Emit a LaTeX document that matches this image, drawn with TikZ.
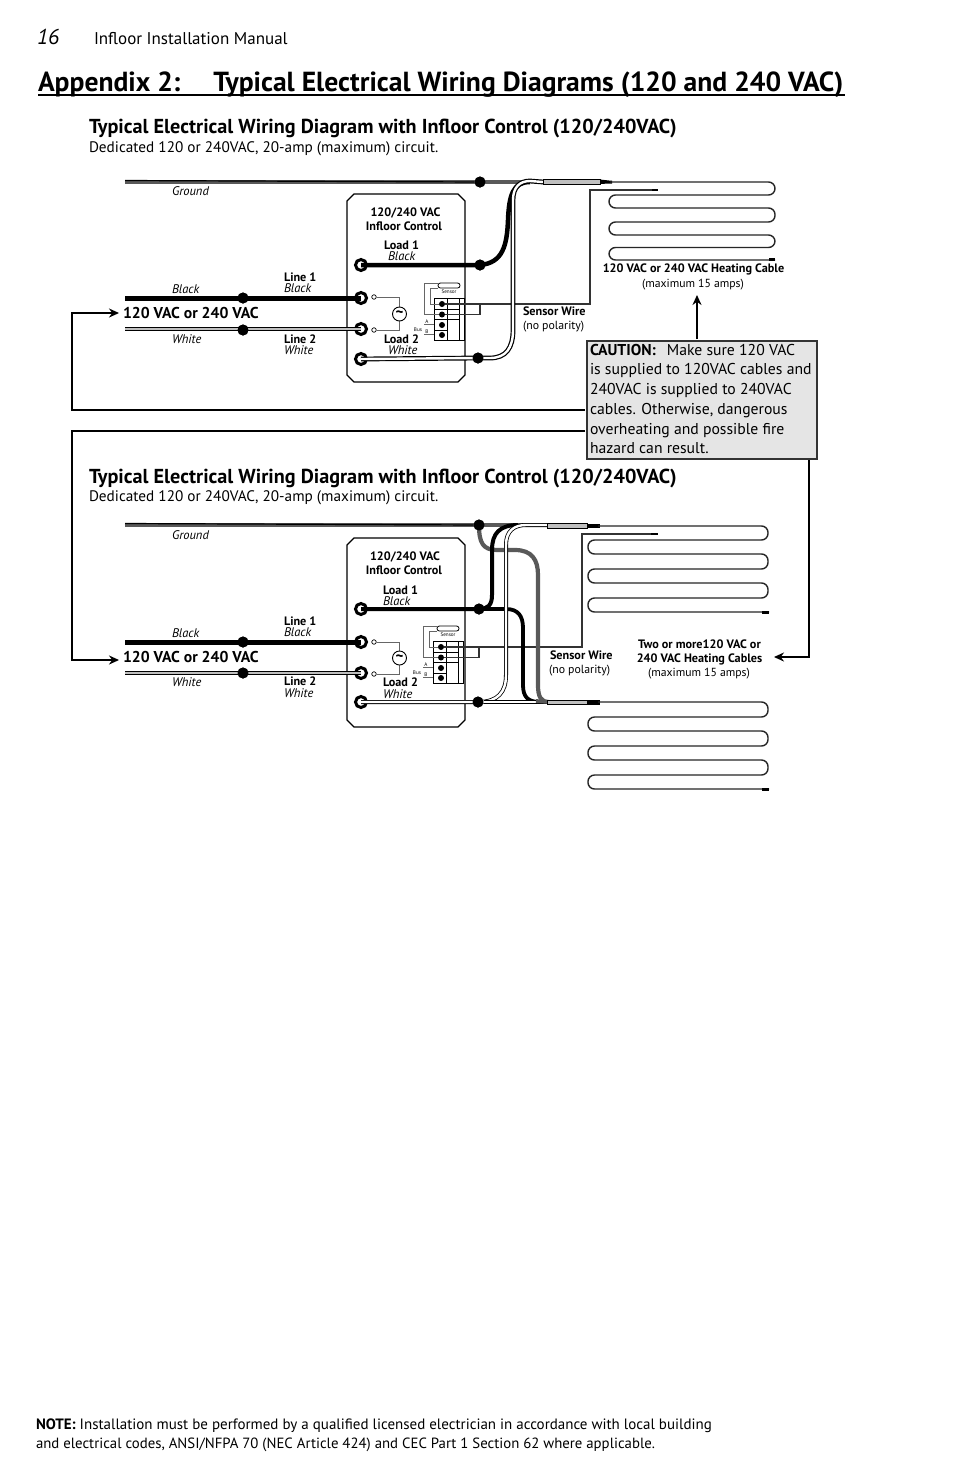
\documentclass[tikz,border=0pt]{standalone}
\usepackage{fontspec}
\setmainfont{PT Sans}
\usetikzlibrary{arrows.meta}
\newcommand{\fs}[1]{\fontsize{#1}{#1}\selectfont}
\tikzset{
 txt/.style={inner sep=0,outer sep=0,anchor=base west,text=black},
 lb/.style={txt,font=\fs{12.2}\bfseries},
 lbc/.style={txt,anchor=base,font=\fs{12.2}\bfseries},
 li/.style={txt,font=\fs{12.5}\itshape},
 lr/.style={txt,font=\fs{11.8}},
 lrc/.style={txt,anchor=base,font=\fs{11.7}},
 vac/.style={txt,font=\fs{15.7}\bfseries},
 subh/.style={txt,font=\fs{20.2}\bfseries},
 ded/.style={txt,font=\fs{15.25}},
 blackw/.style={line width=4.5,black},
 whitew/.style={line width=1.2,black,double=white,double distance=2.4},
 whitegw/.style={line width=1,black,double=black!25,double distance=2.4},
 groundw/.style={line width=4,black!65},
 groundedge/.style={line width=1.2,black},
 thin gray/.style={line width=.9,black!60},
 cablew/.style={line width=1.4,black!85,rounded corners=6.5},
 sensw/.style={line width=1.3,black!80},
 arroww/.style={line width=1.6,black,-{Stealth[length=10,width=9]}},
 dot/.style={circle,fill=black,inner sep=0,minimum size=11},
 sdot/.style={circle,fill=black,inner sep=0,minimum size=6},
 ring/.style={circle,draw=black,line width=3,fill=white,inner sep=0,minimum size=11},
 smallc/.style={circle,draw=black,line width=.7,fill=white,inner sep=0,minimum size=4.5},
 tilde/.style={circle,draw=black,line width=.9,fill=white,inner sep=0,minimum size=14,font=\fs{15}\bfseries},
 ctrlbox/.style={draw=black,line width=1.1,fill=white},
 sleeve/.style={draw=black,line width=1,fill=black!25},
 tipbk/.style={fill=black},
 tiny/.style={txt,anchor=base,font=\fs{5.2}},
}
\newcommand{\sensorblk}[3]{%
 \begin{scope}[shift={(#2,#3)}]
  \draw[line width=1,black] (0,0) rectangle (30,42);
  \draw[line width=1,black] (13,0)--(13,42) (25,0)--(25,42);
  \draw[line width=1,black] (0,11)--(25,11) (0,21.5)--(25,21.5) (0,32)--(13,32);
  \node[sdot] (#1d1) at (8,6) {};
  \node[sdot] (#1d2) at (8,16.5) {};
  \node[sdot] (#1d3) at (8,27) {};
  \node[sdot] (#1d4) at (8,37) {};
  \draw[draw=black,line width=.8,fill=white,rounded corners=2.4] (4,-15) rectangle (26,-10);
  \draw[thin gray] (4,-15) -- (-10,-15) -- (-10,16.5) -- (#1d2);
  \draw[thin gray] (4,-10) -- (-4,-10) -- (-4,6) -- (#1d1);
  \node[tiny] (#1sn) at (15,-4.5) {Sensor};
  \node[tiny] (#1bus) at (-16,33) {Bus};
  \node[tiny] (#1a) at (-7,25) {A};
  \node[tiny] (#1b) at (-7,35) {B};
  \draw[thin gray] (-10,26.5)--(0,26.5) (-10,36.5)--(0,36.5);
 \end{scope}}
\newcommand{\ctrlbx}[4]{\draw[ctrlbox] (#1+7,#2) -- (#3-7,#2) -- (#3,#2+7) -- (#3,#4-7) -- (#3-7,#4) -- (#1+7,#4) -- (#1,#4-7) -- (#1,#2+7) -- cycle;}
\begin{document}
\begin{tikzpicture}[x=1pt,y=-1pt]
\useasboundingbox[fill=white] (0,0) rectangle (954,1484);
% header
\node[txt,font=\fs{21.5}\itshape] (pg) at (37,44) {16};
\node[txt,font=\fs{17}] (man) at (94,44) {Infloor Installation Manual};
\node[txt,font=\fs{27.6}\bfseries] (title) at (38,91) {Appendix 2:\hspace{33pt}Typical Electrical Wiring Diagrams (120 and 240 VAC)};
\draw[line width=2,black] (38,95) -- (845,95);
% ---------- diagram 1
\node[subh] (s1) at (89,133) {Typical Electrical Wiring Diagram with Infloor Control (120/240VAC)};
\node[ded] (d1) at (89,152) {Dedicated 120 or 240VAC, 20-amp (maximum) circuit.};
\ctrlbx{347}{194}{465}{382}
\sensorblk{p}{434}{298}
\node[ring] (tl1) at (361,265) {};
\node[ring] (ta1) at (361,298) {};
\node[ring] (tb1) at (361,329) {};
\node[ring] (tw1) at (361,359) {};
\node[dot] (dg1) at (480,182) {};
\node[dot] (dl1) at (480,265) {};
\node[dot] (dw1) at (478,358) {};
\node[dot] (da1) at (243,298) {};
\node[dot] (db1) at (243,330) {};
\node[smallc] (ca1) at (374,297) {};
\node[smallc] (cb1) at (374,330) {};
\draw[thin gray] (ca1)--(399.5,297)--(399.5,314);
\draw[thin gray] (cb1)--(399.5,330)--(399.5,314);
\node[tilde] (tt1) at (399.5,314) {\textasciitilde};
\coordinate (g1s) at (125,182);
\coordinate (g1e) at (543,182);
\draw[groundw] (g1s)--(530,182);
\draw[groundedge] (125,180.5)--(dg1);
% sensor wire
\coordinate (sn1a) at (590,190);
\coordinate (sn1b) at (658,190);
\draw[sensw] (pd1)--(590,304)--(sn1a)--(sn1b);
\draw[sensw] (pd2)--(480,314.5)--(480,304);
\draw[line width=2.6,black] (652,190)--(sn1b);
% power wires
\draw[blackw] (tl1.center)--(dl1.center) .. controls (503,263) and (507,245) .. (508,220) .. controls (509,195) and (513,182) .. (530,182);
\draw[whitew] (tw1.center)--(dw1.center) -- (490,358) .. controls (506,358) and (513,348) .. (513,330) -- (513,200) .. controls (513,187) and (520,181) .. (530,181) -- (g1e);
\draw[blackw,line width=5] (125,298)--(ta1.center);
\draw[whitegw] (125,329)--(tb1.center);
\node[dot] at (dg1) {};
\node[dot] at (dl1) {};
\node[dot] at (dw1) {};
\node[dot] at (da1) {};
\node[dot] at (db1) {};
\draw[sleeve] (543,179.5) rectangle (600,184);
\fill[tipbk] (600,179.5)--(609,180.5)--(612,180.5)--(612,183.5)--(609,183.5)--(600,184)--cycle;
\draw[cablew] (610,182)--(775,182)--(775,195)--(609,195)--(609,208)--(775,208)--(775,222)--(609,222)--(609,235)--(775,235)--(775,247.5)--(609,247.5)--(609,260) [sharp corners] --(775,260);
\fill[tipbk] (769,258.2) rectangle (775,261);
% labels 1
\node[lbc] (c11) at (405.5,216) {120/240 VAC};
\node[lbc] (c12) at (404,230) {Infloor Control};
\node[lb] (l1a) at (384,249) {Load 1};
\node[li] (l1b) at (388,260) {Black};
\node[li] (gr1) at (172,195) {Ground};
\node[li] (bk1) at (172,293) {Black};
\node[li] (wh1) at (172,343) {White};
\node[lb] (li1) at (284,281) {Line 1};
\node[li] (li1b) at (284,292) {Black};
\node[lb] (li2) at (284,343) {Line 2};
\node[li] (li2b) at (284,354) {White};
\node[lb] (lo2) at (384,343) {Load 2};
\node[li] (lo2b) at (388,354) {White};
\node[vac] (v1) at (123,318) {120 VAC or 240 VAC};
\node[lb] (sw1) at (523,315) {Sensor Wire};
\node[lr] (np1) at (523,329) {(no polarity)};
\node[lbc] (hc1) at (693.5,272) {120 VAC or 240 VAC Heating Cable};
\node[lrc] (mx1) at (693,287) {(maximum 15 amps)};
% caution
\node[draw=black!80,line width=2,fill=black!10,minimum width=230,minimum height=118,inner sep=0,outer sep=0,anchor=north west] (caution) at (586.5,340.5) {};
\node[txt,font=\fs{16},align=left,anchor=north west] (ctext) at (590,341.5) {%
\parbox[t]{225pt}{\fontsize{15.7}{19.7}\selectfont\strut\textbf{CAUTION:}\hspace{11pt}Make sure 120 VAC\\is supplied to 120VAC cables and\\240VAC is supplied to 240VAC\\cables. Otherwise, dangerous\\overheating and possible fire\\hazard can result.}};
\coordinate (ct1) at (697,339);
\coordinate (ct2) at (697,295);
\draw[arroww] (ct1)--(ct2);
\coordinate (arr1a) at (585,410);
\coordinate (arr1b) at (119,313);
\draw[arroww] (arr1a)--(72,410)--(72,313)--(arr1b);
\coordinate (arr2a) at (585,431);
\coordinate (arr2b) at (119,660);
\draw[arroww] (arr2a)--(72,431)--(72,660)--(arr2b);
\coordinate (arr3a) at (809,460);
\coordinate (arr3b) at (774,657);
\draw[arroww] (arr3a)--(809,657)--(arr3b);
% ---------- diagram 2
\node[subh] (s2) at (89,483) {Typical Electrical Wiring Diagram with Infloor Control (120/240VAC)};
\node[ded] (d2) at (89,501) {Dedicated 120 or 240VAC, 20-amp (maximum) circuit.};
\ctrlbx{347}{538}{465}{727}
\sensorblk{q}{433}{641}
\node[ring] (tl2) at (361,609) {};
\node[ring] (ta2) at (361,642) {};
\node[ring] (tb2) at (361,673) {};
\node[ring] (tw2) at (361,702) {};
\node[dot] (dg2) at (479,525) {};
\node[dot] (dl2) at (479,609) {};
\node[dot] (dw2) at (478,702) {};
\node[dot] (da2) at (243,642) {};
\node[dot] (db2) at (243,673) {};
\node[smallc] (ca2) at (374,642) {};
\node[smallc] (cb2) at (374,674) {};
\draw[thin gray] (ca2)--(399.5,642)--(399.5,658);
\draw[thin gray] (cb2)--(399.5,674)--(399.5,658);
\node[tilde] (tt2) at (399.5,658) {\textasciitilde};
\draw[groundw] (125,525)--(530,525);
\draw[groundedge] (125,523.5)--(dg2);
\coordinate (sn2a) at (582,534);
\coordinate (sn2b) at (658,534);
\draw[sensw] (qd1)--(582,647)--(sn2a)--(sn2b);
\draw[sensw] (qd2)--(479,657.5)--(479,647);
\draw[line width=2.6,black] (651,534)--(sn2b);
% gray branch
\draw[line width=4.2,black!65] (dg2.center) .. controls (479,543) and (483,550) .. (497,550) -- (515,550) .. controls (532,550) and (538,560) .. (538,575) -- (538,685) .. controls (538,697) and (541,702) .. (549,702);
% black branches
\draw[blackw,line width=4] (tl2.center)--(dl2.center) .. controls (488,609) and (492,605) .. (492,595) -- (492,550) .. controls (492,533) and (500,525) .. (518,525);
\draw[blackw,line width=3.8] (dl2.center) -- (506,609) .. controls (518,609) and (523,616) .. (523,628) -- (523,685) .. controls (523,697) and (528,702) .. (540,702);
% white
\draw[whitew,line width=.8] (tw2.center)--(dw2.center) .. controls (498,702) and (506,692) .. (506,675) -- (506,545) .. controls (506,531) and (514,525) .. (526,525) -- (547,525);
\draw[line width=1,black,double=white,double distance=1.6] (484,702)--(547,702);
\draw[blackw,line width=5] (125,642)--(ta2.center);
\draw[whitegw] (125,673)--(tb2.center);
\draw[line width=3.8,black!65] (536,701)--(549,702);
\node[dot] at (dg2) {};
\node[dot] at (dl2) {};
\node[dot] at (dw2) {};
\node[dot] at (da2) {};
\node[dot] at (db2) {};
\draw[sleeve] (547,523.5) rectangle (587,528);
\fill[tipbk] (587,523.5) rectangle (600,528);
\draw[sleeve] (547,700) rectangle (587,704.5);
\fill[tipbk] (587,700) rectangle (600,704.5);
\draw[cablew] (598,526)--(768,526)--(768,540)--(588,540)--(588,554)--(768,554)--(768,569)--(588,569)--(588,583)--(768,583)--(768,598)--(588,598)--(588,612) [sharp corners] --(769,612);
\fill[tipbk] (762,610.5) rectangle (769,613.5);
\draw[cablew] (598,702)--(768,702)--(768,717)--(588,717)--(588,731)--(768,731)--(768,746)--(588,746)--(588,760)--(768,760)--(768,775)--(588,775)--(588,789) [sharp corners] --(769,789);
\fill[tipbk] (762,787.5) rectangle (769,790.5);
% labels 2
\node[lbc] (c21) at (405,560) {120/240 VAC};
\node[lbc] (c22) at (404,574) {Infloor Control};
\node[lb] (l2a) at (383,594) {Load 1};
\node[li] (l2b) at (383,605) {Black};
\node[li] (gr2) at (172,539) {Ground};
\node[li] (bk2) at (172,637) {Black};
\node[li] (wh2) at (172,686) {White};
\node[lb] (li3) at (284,625) {Line 1};
\node[li] (li3b) at (284,636) {Black};
\node[lb] (li4) at (284,685) {Line 2};
\node[li] (li4b) at (284,697) {White};
\node[lb] (lo4) at (383,686) {Load 2};
\node[li] (lo4b) at (383,698) {White};
\node[vac] (v2) at (123,662) {120 VAC or 240 VAC};
\node[lb] (sw2) at (550,659) {Sensor Wire};
\node[lr] (np2) at (549,673) {(no polarity)};
\node[lbc] (hc2) at (699.5,648) {Two or more120 VAC or};
\node[lbc] (hc3) at (699.5,662) {240 VAC Heating Cables};
\node[lrc] (mx2) at (699,676) {(maximum 15 amps)};
% footer
\node[txt,font=\fs{15}] (f1) at (36,1429) {\textbf{NOTE:} Installation must be performed by a qualified licensed electrician in accordance with local building};
\node[txt,font=\fs{14.8}] (f2) at (36,1448) {and electrical codes, ANSI/NFPA 70 (NEC Article 424) and CEC Part 1 Section 62 where applicable.};
\end{tikzpicture}
\end{document}
